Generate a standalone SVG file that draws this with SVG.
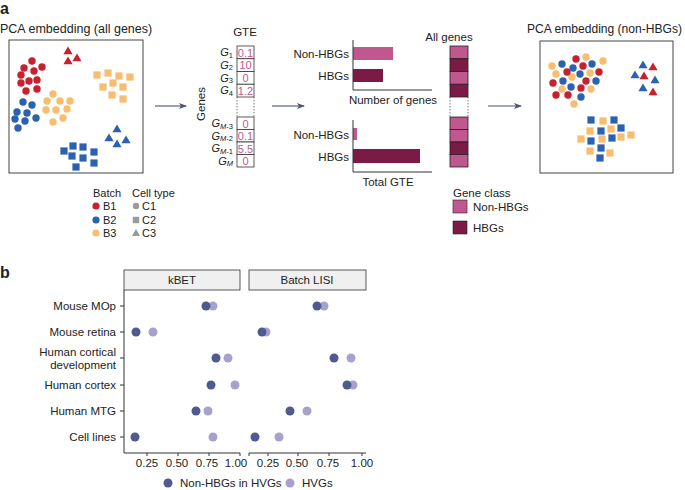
<svg xmlns="http://www.w3.org/2000/svg" xmlns:xlink="http://www.w3.org/1999/xlink" width="685" height="490" viewBox="0 0 685 490">
<defs>
<style>
text{font-family:"Liberation Sans",Arial,sans-serif;fill:#222}
.t12{font-size:12.5px}
.t11{font-size:11.5px}
.t10{font-size:11px}
.lbl{font-size:13px;font-weight:bold}
.box{fill:#fff;stroke:#444;stroke-width:1}
.ax{stroke:#333;stroke-width:1;fill:none}
.r{fill:#c8202f}
.b{fill:#2b62b0}
.o{fill:#f8bd6e}
.g{fill:#9a9a9a}
.nh{fill:#c0588f}
.hb{fill:#7a1a45}
.cell{fill:#fff;stroke:#333;stroke-width:0.8}
.num{font-size:11px;fill:#c0588f;text-anchor:middle}
.gl{font-size:11px;text-anchor:end}
.dot{stroke:#555;stroke-width:0.8;stroke-dasharray:1.5 1.5}
.arr{stroke:#4a5570;stroke-width:1.1;fill:none;marker-end:url(#ah)}
.dk{fill:#4f5a8f}
.lt{fill:#a7a2cb}
.hdr{fill:#f0f0f0;stroke:#333;stroke-width:0.8}
</style>
<marker id="ah" markerWidth="8" markerHeight="6" refX="7" refY="3" orient="auto" markerUnits="userSpaceOnUse">
<path d="M0,0 L8,3 L0,6 L2,3 Z" fill="#4a5570"/>
</marker>
<path id="tri" d="M0,-4.6 L4.6,3.2 L-4.6,3.2 Z"/>
<rect id="sq" x="-3.6" y="-3.6" width="7.2" height="7.2"/>
<circle id="ci" r="3.7"/>
</defs>

<text x="0" y="14" class="lbl" style="font-size:16px">a</text>
<text x="0" y="278" class="lbl" style="font-size:16px">b</text>

<!-- Left PCA -->
<g id="pca-all">
<text x="0" y="33" class="t12">PCA embedding (all genes)</text>
<rect x="9" y="40" width="134" height="133" class="box"/>
<g class="r">
<use href="#tri" x="68" y="51"/><use href="#tri" x="68" y="61"/><use href="#tri" x="77" y="58"/>
<use href="#ci" x="32" y="61"/><use href="#ci" x="24" y="68"/><use href="#ci" x="34" y="71"/><use href="#ci" x="42" y="67"/>
<use href="#ci" x="21" y="75"/><use href="#ci" x="29" y="81"/><use href="#ci" x="37" y="80"/><use href="#ci" x="21" y="83"/>
<use href="#ci" x="26" y="91"/><use href="#ci" x="37" y="89"/>
</g>
<g class="b">
<use href="#ci" x="23" y="102"/><use href="#ci" x="32" y="105"/><use href="#ci" x="17" y="112"/><use href="#ci" x="27" y="113"/>
<use href="#ci" x="36" y="118"/><use href="#ci" x="15" y="119"/><use href="#ci" x="25" y="121"/><use href="#ci" x="18" y="128"/>
<use href="#tri" x="117" y="129"/><use href="#tri" x="109" y="138"/><use href="#tri" x="117" y="144"/><use href="#tri" x="126" y="140"/>
<use href="#sq" x="64" y="151"/><use href="#sq" x="73" y="146"/><use href="#sq" x="83" y="147"/><use href="#sq" x="94" y="152"/>
<use href="#sq" x="72" y="156"/><use href="#sq" x="83" y="158"/><use href="#sq" x="76" y="167"/><use href="#sq" x="94" y="163"/>
</g>
<g class="o">
<use href="#ci" x="53" y="94"/><use href="#ci" x="47" y="101"/><use href="#ci" x="60" y="101"/><use href="#ci" x="70" y="101"/>
<use href="#ci" x="46" y="110"/><use href="#ci" x="56" y="110"/><use href="#ci" x="67" y="109"/><use href="#ci" x="53" y="122"/><use href="#ci" x="63" y="118"/>
<use href="#sq" x="97" y="75"/><use href="#sq" x="108" y="73"/><use href="#sq" x="119" y="76"/><use href="#sq" x="130" y="77"/>
<use href="#sq" x="103" y="87"/><use href="#sq" x="113" y="83"/><use href="#sq" x="123" y="87"/><use href="#sq" x="112" y="95"/><use href="#sq" x="123" y="99"/>
</g>
</g>

<!-- Legend a -->
<g id="legend-batch">
<text x="93" y="197" class="t10">Batch</text>
<circle cx="96" cy="206" r="3.6" class="r"/><text x="103" y="210" class="t10">B1</text>
<circle cx="96" cy="220" r="3.6" class="b"/><text x="103" y="224" class="t10">B2</text>
<circle cx="96" cy="233" r="3.6" class="o"/><text x="103" y="237" class="t10">B3</text>
</g>
<g id="legend-celltype">
<text x="132" y="197" class="t10">Cell type</text>
<circle cx="136" cy="206" r="3.2" class="g"/><text x="142" y="210" class="t10">C1</text>
<rect x="132.8" y="216.8" width="6.4" height="6.4" class="g"/><text x="142" y="224" class="t10">C2</text>
<path d="M136,229 L140,236 L132,236 Z" class="g"/><text x="142" y="237" class="t10">C3</text>
</g>

<!-- GTE column -->
<g id="gte">
<text x="245" y="36" class="t11" text-anchor="middle">GTE</text>
<text transform="translate(205,104) rotate(-90)" class="t11" text-anchor="middle">Genes</text>
<rect x="237" y="46" width="17" height="12.75" class="cell"/>
<rect x="237" y="58.75" width="17" height="12.75" class="cell"/>
<rect x="237" y="71.5" width="17" height="12.75" class="cell"/>
<rect x="237" y="84.25" width="17" height="12.75" class="cell"/>
<line x1="237" y1="97" x2="237" y2="117" class="dot"/><line x1="254" y1="97" x2="254" y2="117" class="dot"/>
<rect x="237" y="117" width="17" height="12.5" class="cell"/>
<rect x="237" y="129.5" width="17" height="12.5" class="cell"/>
<rect x="237" y="142" width="17" height="12.5" class="cell"/>
<rect x="237" y="154.5" width="17" height="12.5" class="cell"/>
<text x="245.5" y="56.5" class="num">0.1</text>
<text x="245.5" y="69" class="num">10</text>
<text x="245.5" y="82" class="num">0</text>
<text x="245.5" y="94.5" class="num">1.2</text>
<text x="245.5" y="127.5" class="num">0</text>
<text x="245.5" y="140" class="num">0.1</text>
<text x="245.5" y="152.5" class="num">5.5</text>
<text x="245.5" y="165" class="num">0</text>
<text x="233" y="56" class="gl"><tspan font-style="italic">G</tspan><tspan font-size="7.5" dy="1.5">1</tspan></text>
<text x="233" y="68.5" class="gl"><tspan font-style="italic">G</tspan><tspan font-size="7.5" dy="1.5">2</tspan></text>
<text x="233" y="81.5" class="gl"><tspan font-style="italic">G</tspan><tspan font-size="7.5" dy="1.5">3</tspan></text>
<text x="233" y="94" class="gl"><tspan font-style="italic">G</tspan><tspan font-size="7.5" dy="1.5">4</tspan></text>
<text x="233" y="127" class="gl"><tspan font-style="italic">G</tspan><tspan font-size="7.5" dy="1.5" font-style="italic">M</tspan><tspan font-size="7.5">-3</tspan></text>
<text x="233" y="139.5" class="gl"><tspan font-style="italic">G</tspan><tspan font-size="7.5" dy="1.5" font-style="italic">M</tspan><tspan font-size="7.5">-2</tspan></text>
<text x="233" y="152" class="gl"><tspan font-style="italic">G</tspan><tspan font-size="7.5" dy="1.5" font-style="italic">M</tspan><tspan font-size="7.5">-1</tspan></text>
<text x="233" y="164.5" class="gl"><tspan font-style="italic">G</tspan><tspan font-size="7.5" dy="1.5" font-style="italic">M</tspan></text>
</g>

<!-- Bar charts -->
<g id="bars-count">
<rect x="353" y="47" width="40" height="13" class="nh"/>
<rect x="353" y="69" width="30" height="13" class="hb"/>
<path d="M353,40 V90 H432" class="ax"/>
<text x="349" y="57.5" class="t11" text-anchor="end">Non-HBGs</text>
<text x="349" y="79.5" class="t11" text-anchor="end">HBGs</text>
<text x="393" y="104" class="t11" text-anchor="middle">Number of genes</text>
</g>
<g id="bars-gte">
<rect x="353" y="128" width="4" height="12" class="nh"/>
<rect x="353" y="149" width="67" height="14" class="hb"/>
<path d="M353,120 V172 H432" class="ax"/>
<text x="349" y="138.5" class="t11" text-anchor="end">Non-HBGs</text>
<text x="349" y="160.5" class="t11" text-anchor="end">HBGs</text>
<text x="388" y="186" class="t11" text-anchor="middle">Total GTE</text>
</g>

<!-- All genes column -->
<g id="all-genes">
<text x="449" y="41" class="t11" text-anchor="middle">All genes</text>
<g stroke="#222" stroke-width="0.8">
<rect x="450" y="46" width="18" height="12.75" class="nh"/>
<rect x="450" y="58.75" width="18" height="12.75" class="hb"/>
<rect x="450" y="71.5" width="18" height="12.75" class="nh"/>
<rect x="450" y="84.25" width="18" height="12.75" class="hb"/>
<rect x="450" y="117" width="18" height="12.5" class="nh"/>
<rect x="450" y="129.5" width="18" height="12.5" class="nh"/>
<rect x="450" y="142" width="18" height="12.5" class="hb"/>
<rect x="450" y="154.5" width="18" height="12.5" class="nh"/>
</g>
<line x1="450" y1="97" x2="450" y2="117" class="dot"/><line x1="468" y1="97" x2="468" y2="117" class="dot"/>
</g>

<g id="legend-geneclass">
<text x="453" y="197" class="t11">Gene class</text>
<rect x="453" y="200" width="14" height="13" class="nh" stroke="#222" stroke-width="0.6"/>
<text x="473" y="210.5" class="t11">Non-HBGs</text>
<rect x="453" y="221" width="14" height="13" class="hb" stroke="#222" stroke-width="0.6"/>
<text x="473" y="231.5" class="t11">HBGs</text>
</g>

<!-- Right PCA -->
<g id="pca-nonhbg">
<text x="527" y="33" style="font-size:12px" textLength="155" lengthAdjust="spacingAndGlyphs">PCA embedding (non-HBGs)</text>
<rect x="540" y="41" width="133" height="132" class="box"/>
<g class="o">
<use href="#ci" x="586" y="57"/><use href="#ci" x="552" y="66"/><use href="#ci" x="603" y="61"/><use href="#ci" x="556" y="74"/>
<use href="#ci" x="590" y="73"/><use href="#ci" x="572" y="77"/><use href="#ci" x="562" y="89"/><use href="#ci" x="591" y="89"/><use href="#ci" x="574" y="104"/>
<use href="#sq" x="603" y="121"/><use href="#sq" x="590" y="131"/><use href="#sq" x="611" y="129"/><use href="#sq" x="581" y="139"/>
<use href="#sq" x="602" y="139"/><use href="#sq" x="621" y="137"/><use href="#sq" x="631" y="135"/><use href="#sq" x="590" y="151"/><use href="#sq" x="610" y="153"/>
</g>
<g class="r">
<use href="#ci" x="576" y="59"/><use href="#ci" x="583" y="66"/><use href="#ci" x="567" y="72"/><use href="#ci" x="599" y="72"/>
<use href="#ci" x="586" y="81"/><use href="#ci" x="553" y="83"/><use href="#ci" x="581" y="88"/><use href="#ci" x="556" y="95"/><use href="#ci" x="568" y="95"/>
<use href="#tri" x="653" y="67"/><use href="#tri" x="644" y="76"/><use href="#tri" x="653" y="92"/>
</g>
<g class="b">
<use href="#ci" x="562" y="64"/><use href="#ci" x="592" y="64"/><use href="#ci" x="573" y="68"/><use href="#ci" x="580" y="74"/>
<use href="#ci" x="563" y="81"/><use href="#ci" x="596" y="81"/><use href="#ci" x="571" y="87"/><use href="#ci" x="581" y="97"/>
<use href="#tri" x="643" y="65"/><use href="#tri" x="635" y="75"/><use href="#tri" x="655" y="80"/><use href="#tri" x="643" y="88"/>
<use href="#sq" x="591" y="120"/><use href="#sq" x="614" y="120"/><use href="#sq" x="601" y="131"/><use href="#sq" x="621" y="128"/>
<use href="#sq" x="591" y="141"/><use href="#sq" x="612" y="138"/><use href="#sq" x="601" y="148"/><use href="#sq" x="600" y="158"/>
</g>
</g>

<!-- Connectors -->
<g id="connectors">
<line x1="155" y1="106" x2="186" y2="106" class="arr"/>
<line x1="272" y1="106" x2="304" y2="106" class="arr"/>
<line x1="488" y1="106" x2="521" y2="106" class="arr"/>
</g>

<!-- Panel b -->
<g id="plot-kbet">
<rect x="124" y="270" width="116" height="20" class="hdr"/>
<text x="182" y="284" class="t11" text-anchor="middle">kBET</text>
<path d="M124,290 V453 H240" class="ax"/>
<g class="ax">
<path d="M120,306 H124 M120,332 H124 M120,358 H124 M120,385 H124 M120,411 H124 M120,437 H124"/>
<path d="M147,453 V456 M178,453 V456 M209,453 V456 M240,453 V456"/>
</g>
<g class="t11" text-anchor="end">
<text x="116" y="310">Mouse MOp</text>
<text x="116" y="336">Mouse retina</text>
<text x="116" y="356">Human cortical</text>
<text x="116" y="369">development</text>
<text x="116" y="389">Human cortex</text>
<text x="116" y="415">Human MTG</text>
<text x="116" y="441">Cell lines</text>
</g>
<g class="t11" text-anchor="middle">
<text x="147" y="467">0.25</text><text x="177" y="467">0.50</text><text x="207" y="467">0.75</text><text x="236" y="467">1.00</text>
</g>
<g class="lt">
<circle cx="213" cy="306" r="4.5"/><circle cx="153" cy="332" r="4.5"/><circle cx="228" cy="358" r="4.5"/>
<circle cx="235" cy="385" r="4.5"/><circle cx="208" cy="411" r="4.5"/><circle cx="213" cy="437" r="4.5"/>
</g>
<g class="dk">
<circle cx="206" cy="306" r="4.5"/><circle cx="136" cy="332" r="4.5"/><circle cx="216" cy="358" r="4.5"/>
<circle cx="211" cy="385" r="4.5"/><circle cx="196" cy="411" r="4.5"/><circle cx="135" cy="437" r="4.5"/>
</g>
</g>

<g id="plot-lisi">
<rect x="249" y="270" width="117" height="20" class="hdr"/>
<text x="307" y="284" class="t11" text-anchor="middle">Batch LISI</text>
<path d="M249,456 V453 H366" class="ax"/>
<path d="M268,453 V456 M298,453 V456 M329,453 V456 M362,453 V456" class="ax"/>
<g class="t11" text-anchor="middle">
<text x="268" y="467">0.25</text><text x="297" y="467">0.50</text><text x="328" y="467">0.75</text><text x="362" y="467">1.00</text>
</g>
<g class="lt">
<circle cx="324" cy="306" r="4.5"/><circle cx="266" cy="332" r="4.5"/><circle cx="351" cy="358" r="4.5"/>
<circle cx="353" cy="385" r="4.5"/><circle cx="307" cy="411" r="4.5"/><circle cx="279" cy="437" r="4.5"/>
</g>
<g class="dk">
<circle cx="317" cy="306" r="4.5"/><circle cx="262" cy="332" r="4.5"/><circle cx="334" cy="358" r="4.5"/>
<circle cx="347" cy="385" r="4.5"/><circle cx="290" cy="411" r="4.5"/><circle cx="255" cy="437" r="4.5"/>
</g>
</g>

<g id="legend-b">
<circle cx="168" cy="483" r="4.5" class="dk"/>
<text x="180" y="487" class="t11">Non-HBGs in HVGs</text>
<circle cx="290" cy="483" r="4.5" class="lt"/>
<text x="302" y="487" class="t11">HVGs</text>
</g>
</svg>
